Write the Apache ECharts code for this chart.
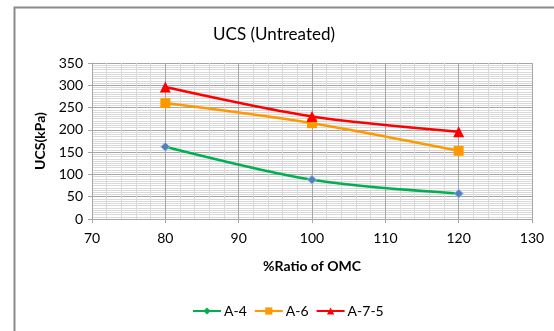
<!DOCTYPE html>
<html><head><meta charset="utf-8">
<script src="https://cdn.jsdelivr.net/npm/echarts@6/dist/echarts.min.js"></script>
<style>html,body{margin:0;padding:0;background:#fff}#c{width:554px;height:331px}</style>
</head><body><div id="c"></div>
<script>
const ratioOMC = [80, 100, 120];
const a4 = [162, 88, 57];
const a6 = [260, 215, 153];
const a75 = [296, 230, 196];
const seriesNames = ['A-4', 'A-6', 'A-7-5'];

const pts = (ys) => ratioOMC.map((x, i) => [x, ys[i]]);
const font = 'Lato, "Open Sans", "Liberation Sans", sans-serif';
const chart = echarts.init(document.getElementById('c'));
chart.setOption({
  animation: false,
  textStyle: { fontFamily: font },
  title: { text: 'UCS (Untreated)', left: 269, top: 21, textAlign: 'center',
    textStyle: { fontFamily: font, fontSize: 17, fontWeight: 'normal', color: '#000' } },
  graphic: [{ type: 'rect', left: 12, top: 5, shape: { width: 600, height: 400 },
    style: { fill: 'none', stroke: '#8a8a8a', lineWidth: 2 }, silent: true, z: -1 }],
  grid: { left: 92, right: 22, top: 63, bottom: 112, containLabel: false },
  legend: {
    left: 187, top: 299, itemWidth: 28, itemHeight: 9, itemGap: 7,
    textStyle: { fontFamily: font, fontSize: 14, color: '#000', padding: [0, 0, 0, -2] },
    data: [
      { name: 'A-4', itemStyle: { color: '#00b050', borderWidth: 0 } },
      { name: 'A-6' },
      { name: 'A-7-5' }
    ]
  },
  xAxis: {
    type: 'value', min: 70, max: 130, interval: 10,
    name: '%Ratio of OMC', nameLocation: 'middle', nameGap: 40,
    nameTextStyle: { fontFamily: font, fontSize: 14, fontWeight: 'bold', color: '#000' },
    axisLine: { show: true, lineStyle: { color: '#a6a6a6' } },
    axisTick: { show: true, length: 4, lineStyle: { color: '#a6a6a6' } },
    axisLabel: { fontFamily: font, fontSize: 14, color: '#000', margin: 12 },
    splitLine: { show: true, lineStyle: { color: '#a6a6a6' } },
    minorTick: { show: false, splitNumber: 5 },
    minorSplitLine: { show: true, lineStyle: { color: '#d9d9d9' } }
  },
  yAxis: {
    type: 'value', min: 0, max: 350, interval: 50,
    name: 'UCS(kPa)', nameLocation: 'middle', nameGap: 42,
    nameTextStyle: { fontFamily: font, fontSize: 14, fontWeight: 'bold', color: '#000' },
    axisLine: { show: true, lineStyle: { color: '#a6a6a6' } },
    axisTick: { show: true, length: 4, lineStyle: { color: '#a6a6a6' } },
    axisLabel: { fontFamily: font, fontSize: 14, color: '#000', margin: 9 },
    splitLine: { show: true, lineStyle: { color: '#a6a6a6' } },
    minorTick: { show: false, splitNumber: 10 },
    minorSplitLine: { show: true, lineStyle: { color: '#d9d9d9' } }
  },
  series: [
    { name: seriesNames[0], type: 'line', data: pts(a4), smooth: 0.3,
      symbol: 'diamond', symbolSize: 9, lineStyle: { color: '#00b050', width: 2.5 },
      itemStyle: { color: '#4f81bd', borderColor: '#9fc3e8', borderWidth: 1 }, z: 3 },
    { name: seriesNames[1], type: 'line', data: pts(a6), smooth: 0.3,
      symbol: 'rect', symbolSize: 10, lineStyle: { color: '#ff9900', width: 2.5 },
      itemStyle: { color: '#ff9900' }, z: 4 },
    { name: seriesNames[2], type: 'line', data: pts(a75), smooth: 0.3,
      symbol: 'triangle', symbolSize: 11, lineStyle: { color: '#ff0000', width: 2.5 },
      itemStyle: { color: '#ff0000' }, z: 5 }
  ]
});
</script></body></html>
